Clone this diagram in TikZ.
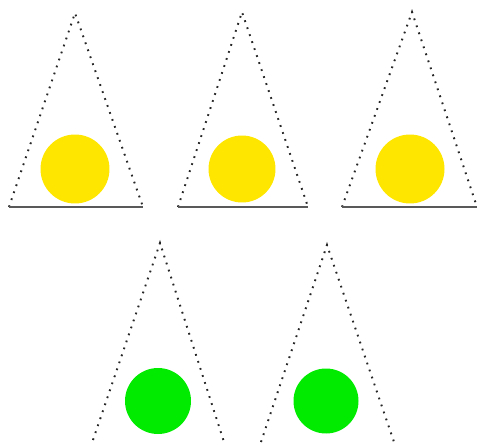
\documentclass[tikz,border=0pt]{standalone}
\usetikzlibrary{positioning}
\definecolor{sunyellow}{RGB}{255,230,0}
\definecolor{leafgreen}{RGB}{0,235,0}

\begin{document}
\begin{tikzpicture}[
  x=0.02cm, y=-0.02cm,
  side/.style = {draw=black!85, dash pattern=on 1pt off 3.2pt, line width=1.1pt},
  base/.style = {draw=black!65, line width=1.1pt},
  disc/.style = {circle, inner sep=0pt, draw=none},
]
  \useasboundingbox (0,0) rectangle (479,442);
  \clip (0,0) rectangle (479,442);

  % top row
  \coordinate (t1) at (75,13);
  \coordinate (l1) at (9,207);
  \coordinate (r1) at (143,207);
  \draw[side] (l1) -- (t1) -- (r1);
  \draw[base] (l1) -- (r1);
  \node[disc, fill=sunyellow, minimum size=1.38cm] (c1) at (75,169) {};

  \coordinate (t2) at (242,12);
  \coordinate (l2) at (178,207);
  \coordinate (r2) at (308,207);
  \draw[side] (l2) -- (t2) -- (r2);
  \draw[base] (l2) -- (r2);
  \node[disc, fill=sunyellow, minimum size=1.34cm] (c2) at (242,169) {};

  \coordinate (t3) at (412,12);
  \coordinate (l3) at (342,207);
  \coordinate (r3) at (477,207);
  \draw[side] (l3) -- (t3) -- (r3);
  \draw[base] (l3) -- (r3);
  \node[disc, fill=sunyellow, minimum size=1.38cm] (c3) at (410,169) {};

  % bottom row, cut off by the page edge
  \coordinate (t4) at (160,243);
  \coordinate (l4) at (93,440);
  \coordinate (r4) at (224,442);
  \draw[side] (l4) -- (t4) -- (r4);
  \node[disc, fill=leafgreen, minimum size=1.32cm] (c4) at (158,401) {};

  \coordinate (t5) at (327,245);
  \coordinate (l5) at (261,442);
  \coordinate (r5) at (394,442);
  \draw[side] (l5) -- (t5) -- (r5);
  \node[disc, fill=leafgreen, minimum size=1.3cm] (c5) at (326,401) {};
\end{tikzpicture}
\end{document}
